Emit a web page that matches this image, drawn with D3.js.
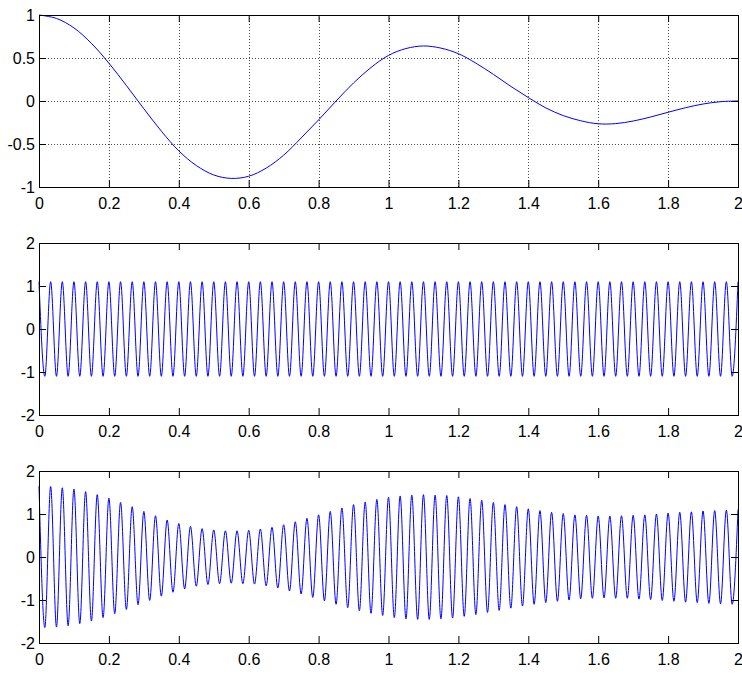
<!DOCTYPE html>
<html>
<head>
<meta charset="utf-8">
<script src="https://d3js.org/d3.v7.min.js"></script>
<style>
  body { margin: 0; background: #fff; }
  .axis text { font-family: "Liberation Sans", Arial, sans-serif; font-size: 16px; fill: #000; }
  .axis line { stroke: #000; stroke-width: 1; }
  .axis path { display: none; }
  .grid line { stroke: #000; stroke-width: 1; stroke-dasharray: 1,2; opacity: 0.7; }
  .frame { fill: none; stroke: #000; stroke-width: 1; }
  .signal { fill: none; stroke: #0000ff; stroke-width: 1; }
</style>
</head>
<body>
<div id="chart"></div>
<script>
  // x axis ticks shared by all three panels
  var xTicks = [0, 0.2, 0.4, 0.6, 0.8, 1, 1.2, 1.4, 1.6, 1.8, 2];
  var yTicksTop = [-1, -0.5, 0, 0.5, 1];
  var yTicksLow = [-2, -1, 0, 1, 2];

  // message signal, read every 0.05 s from the top panel
  var msgTime = [0, 0.05, 0.1, 0.15, 0.2, 0.25, 0.3, 0.35, 0.4, 0.45, 0.5, 0.55, 0.6, 0.65, 0.7, 0.75, 0.8, 0.85, 0.9, 0.95,
                 1, 1.05, 1.1, 1.15, 1.2, 1.25, 1.3, 1.35, 1.4, 1.45, 1.5, 1.55, 1.6, 1.65, 1.7, 1.75, 1.8, 1.85, 1.9, 1.95, 2];
  var msgValue = [1, 0.96, 0.85, 0.67, 0.44, 0.18, -0.09, -0.35, -0.58, -0.75, -0.86, -0.9, -0.875, -0.78, -0.63, -0.43, -0.22, 0, 0.21, 0.39,
                  0.53, 0.61, 0.64, 0.615, 0.55, 0.44, 0.31, 0.17, 0.04, -0.08, -0.17, -0.23, -0.265, -0.263, -0.233, -0.186, -0.131, -0.078, -0.035, -0.008, 0];

  // carrier: 60 cycles over 2 s, so an extremum every 1/60 s, peak height read as 1.1
  var carrierHalfPeriod = 1 / 60;
  var carrierPeak = 1.1;

  // modulated signal: height of each successive extremum (peak, trough, peak, ...)
  var modPeaks = [1.65, 1.64, 1.64, 1.63, 1.61, 1.60, 1.58, 1.55, 1.52, 1.49, 1.45, 1.41, 1.37, 1.32, 1.27, 1.22, 1.17, 1.11, 1.06, 1.01,
                  0.96, 0.91, 0.86, 0.82, 0.78, 0.74, 0.71, 0.68, 0.66, 0.64, 0.63, 0.62, 0.61, 0.61, 0.61, 0.62, 0.62, 0.63, 0.65, 0.67,
                  0.69, 0.72, 0.75, 0.79, 0.82, 0.86, 0.90, 0.94, 0.98, 1.02, 1.06, 1.10, 1.14, 1.18, 1.22, 1.25, 1.28, 1.31, 1.34, 1.36,
                  1.39, 1.41, 1.42, 1.44, 1.44, 1.45, 1.45, 1.45, 1.44, 1.44, 1.43, 1.42, 1.40, 1.38, 1.36, 1.34, 1.32, 1.29, 1.27, 1.24,
                  1.22, 1.19, 1.17, 1.14, 1.12, 1.10, 1.08, 1.06, 1.04, 1.03, 1.01, 1.00, 0.98, 0.97, 0.97, 0.96, 0.95, 0.95, 0.95, 0.96,
                  0.96, 0.96, 0.97, 0.98, 0.98, 0.99, 1.00, 1.01, 1.02, 1.03, 1.04, 1.05, 1.05, 1.06, 1.07, 1.08, 1.08, 1.09, 1.09, 1.10,
                  1.10];

  var width = 742, height = 676;
  var left = 39, right = 738;
  var panelH = 172;
  var panelTops = [15, 243, 471];

  var svg = d3.select("#chart").append("svg")
    .attr("width", width)
    .attr("height", height);

  var x = d3.scaleLinear().domain([0, 2]).range([left, right]);

  var msgPoints = msgTime.map(function(t, i) { return [t, msgValue[i]]; });
  var carrierPoints = modPeaks.map(function(v, k) {
    return [k * carrierHalfPeriod, (k % 2 ? -1 : 1) * carrierPeak];
  });
  var modPoints = modPeaks.map(function(v, k) {
    return [k * carrierHalfPeriod, (k % 2 ? -1 : 1) * v];
  });

  function fmt(d) { return String(d); }

  function panel(top, yDomain, yTicks, grid, points, curve) {
    var y = d3.scaleLinear().domain(yDomain).range([top + panelH, top]);
    var g = svg.append("g");

    if (grid) {
      var gg = g.append("g").attr("class", "grid");
      gg.selectAll(".gx").data(xTicks.slice(1, -1)).enter().append("line")
        .attr("x1", function(d) { return Math.round(x(d)) + 0.5; })
        .attr("x2", function(d) { return Math.round(x(d)) + 0.5; })
        .attr("y1", top).attr("y2", top + panelH);
      gg.selectAll(".gy").data(yTicks.slice(1, -1)).enter().append("line")
        .attr("y1", function(d) { return Math.round(y(d)) + 0.5; })
        .attr("y2", function(d) { return Math.round(y(d)) + 0.5; })
        .attr("x1", left).attr("x2", right);
    }

    var line = d3.line()
      .x(function(d) { return x(d[0]); })
      .y(function(d) { return y(d[1]); })
      .curve(curve);

    g.append("path").attr("class", "signal").attr("d", line(points));

    g.append("g").attr("class", "axis")
      .attr("transform", "translate(0," + (top + panelH) + ")")
      .call(d3.axisBottom(x).tickValues(xTicks).tickFormat(fmt).tickSizeInner(-7).tickSizeOuter(0).tickPadding(11));
    g.append("g").attr("class", "axis")
      .attr("transform", "translate(0," + top + ")")
      .call(d3.axisTop(x).tickValues(xTicks).tickFormat("").tickSizeInner(-7).tickSizeOuter(0));
    g.append("g").attr("class", "axis")
      .attr("transform", "translate(" + left + ",0)")
      .call(d3.axisLeft(y).tickValues(yTicks).tickFormat(fmt).tickSizeInner(-7).tickSizeOuter(0).tickPadding(4));
    g.append("g").attr("class", "axis")
      .attr("transform", "translate(" + right + ",0)")
      .call(d3.axisRight(y).tickValues(yTicks).tickFormat("").tickSizeInner(-7).tickSizeOuter(0));

    g.append("rect").attr("class", "frame")
      .attr("x", left + 0.5).attr("y", top + 0.5)
      .attr("width", right - left).attr("height", panelH);
  }

  panel(panelTops[0], [-1, 1], yTicksTop, true, msgPoints, d3.curveCatmullRom);
  panel(panelTops[1], [-2, 2], yTicksLow, false, carrierPoints, d3.curveMonotoneX);
  panel(panelTops[2], [-2, 2], yTicksLow, false, modPoints, d3.curveMonotoneX);
</script>
</body>
</html>
